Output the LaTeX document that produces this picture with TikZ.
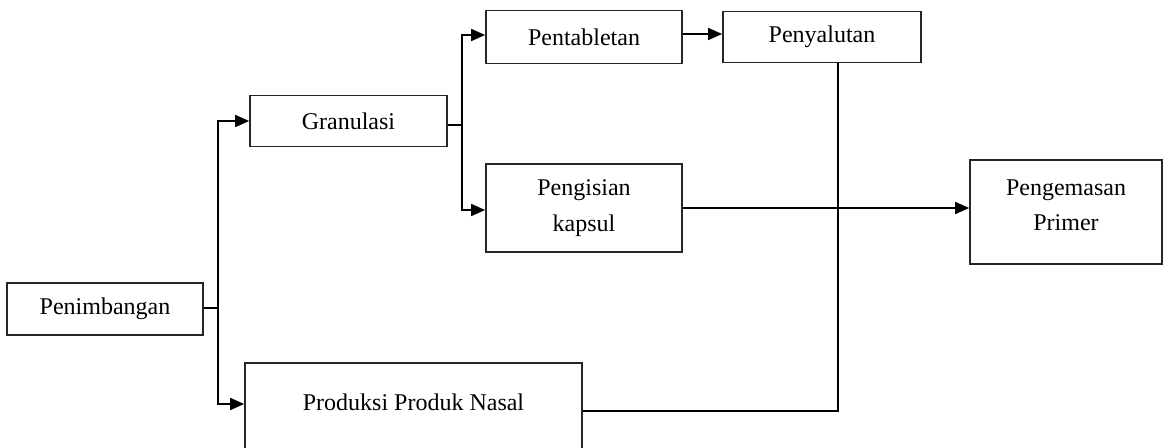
\documentclass[tikz,border=0pt]{standalone}
\usepackage{fontspec}
\setmainfont{Liberation Serif}
\usetikzlibrary{arrows.meta}
\begin{document}
\begin{tikzpicture}[x=1pt,y=-1pt,
  box/.style={draw=black!85,line width=1.7pt,rectangle,inner sep=0pt,align=center,
    font=\fontsize{24}{36}\selectfont},
  txt/.style={inner sep=0pt,align=center,font=\fontsize{24}{35}\selectfont},
  conn/.style={draw=black,line width=1.7pt},
  arr/.style={conn,-{Triangle[length=14pt,width=12pt]}}]
\useasboundingbox (0,0) rectangle (1175,447);
\clip (0,0) rectangle (1175,447);
\node[box,minimum width=196pt,minimum height=52pt] (pen) at (105,309) {Penimbangan};
\node[box,minimum width=197pt,minimum height=51pt] (gran) at (348.5,121) {Granulasi};
\node[box,minimum width=196pt,minimum height=53pt] (pent) at (584,37) {Pentabletan};
\node[box,minimum width=198pt,minimum height=51pt] (peny) at (822,37) {Penyalutan};
\node[box,minimum width=196pt,minimum height=88pt] (peng) at (584,208) {Pengisian\\kapsul};
\node[box,minimum width=192pt,minimum height=104pt] (pack) at (1066,212) {};
\node[txt] (packt) at (1066,205) {Pengemasan\\Primer};
\node[box,minimum width=337pt,minimum height=120pt] (prod) at (413.5,423) {};
\node[txt] (prodt) at (413.5,402) {Produksi Produk Nasal};
\coordinate (j1) at (218,308);
\coordinate (j2) at (462,125);
\coordinate (k1) at (838,411);
\draw[conn] (pen.east |- j1) -- (j1);
\draw[arr] (j1) |- (gran.west);
\draw[arr] (j1) |- (prod.west |- 0,404);
\draw[conn] (gran.east |- j2) -- (j2);
\draw[arr] (j2) |- (pent.west |- 0,35);
\draw[arr] (j2) |- (peng.west |- 0,210);
\draw[arr] (pent.east |- 0,34) -- (peny.west |- 0,34);
\draw[arr] (peng.east) -- (pack.west |- peng.east);
\draw[conn] (peny.south -| k1) -- (k1) -- (prod.east |- k1);
\end{tikzpicture}
\end{document}
